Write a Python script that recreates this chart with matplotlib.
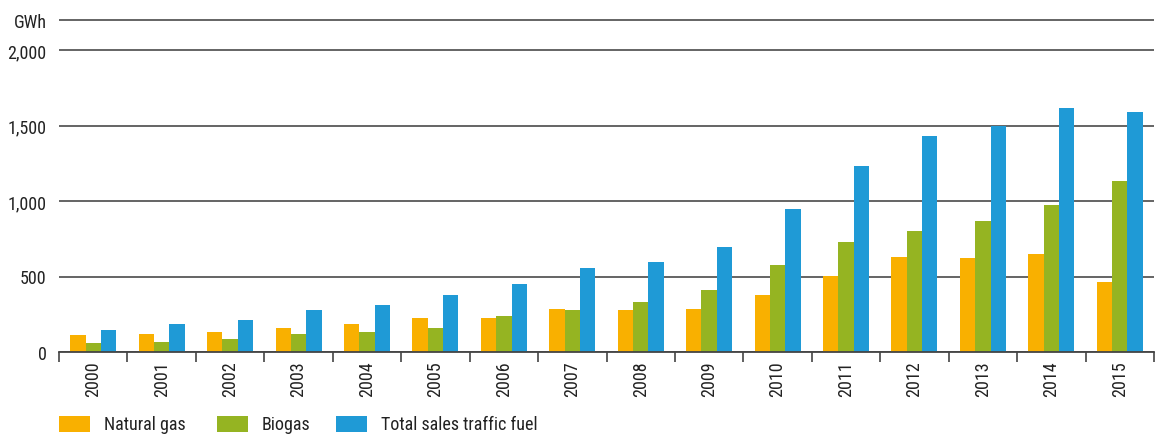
import matplotlib
matplotlib.use("Agg")
import matplotlib.pyplot as plt
from matplotlib import font_manager as fm
import numpy as np
from matplotlib.patches import Rectangle

# pick a condensed sans font if one is installed
prefs = ['roboto condensed', 'liberation sans narrow', 'open sans condensed',
         'noto sans condensed', 'dejavu sans condensed', 'dejavu sans']
chosen = None
for p in prefs:
    for f in fm.fontManager.ttflist:
        nm = f.name.lower()
        cond = ('condensed' in nm or 'narrow' in nm or
                str(f.stretch) in ('condensed', 'semi-condensed', '400', '500') or
                'condensed' in f.fname.lower() or 'narrow' in f.fname.lower())
        if cond and f.style == 'normal' and f.weight in (400, 'normal', 'regular') \
                and (nm.startswith(p) or p in f.fname.lower().replace('-', ' ').replace('_', ' ')):
            chosen = f
            break
    if chosen:
        break

if chosen is not None:
    fm.fontManager.addfont(chosen.fname)
    plt.rcParams['font.family'] = [chosen.name, 'DejaVu Sans']
    plt.rcParams['font.stretch'] = chosen.stretch
    FS = 13
else:
    plt.rcParams['font.family'] = ['DejaVu Sans']
    FS = 10.5

years = ['2000', '2001', '2002', '2003', '2004', '2005', '2006', '2007',
         '2008', '2009', '2010', '2011', '2012', '2013', '2014', '2015']
natural_gas = [113, 119, 134, 159, 185, 225, 225, 285, 278, 285, 377, 505, 630, 623, 650, 464]
biogas = [60, 66, 86, 119, 132, 159, 238, 278, 331, 411, 577, 729, 802, 868, 974, 1133]
total_sales = [146, 185, 212, 278, 311, 377, 450, 556, 596, 695, 947, 1232, 1431, 1498, 1615, 1588]

series_labels = ['Natural gas', 'Biogas', 'Total sales traffic fuel']
series_colors = ['#F9B000', '#95B422', '#1F9AD6']
ytick_values = [0, 500, 1000, 1500, 2000, 2200]
ytick_labels = ['0', '500', '1,000', '1,500', '2,000', 'GWh']

W, H = 1155, 435
fig = plt.figure(figsize=(W / 100, H / 100), dpi=100)
ymax = 2300
px_per = 75.5 / 500
y0_px = 353
top_px = y0_px - ymax * px_per
left_px, right_px = 59, 1154
ax = fig.add_axes([left_px / W, (H - y0_px) / H, (right_px - left_px) / W, (y0_px - top_px) / H])

x = np.arange(len(years))
bw = 0.224
for i, (vals, col) in enumerate(zip([natural_gas, biogas, total_sales], series_colors)):
    ax.bar(x + (i - 1) * bw, vals, width=bw, color=col, linewidth=0, zorder=3)

ax.set_xlim(-0.5, len(years) - 0.5)
ax.set_ylim(0, ymax)
ax.set_yticks(ytick_values)
ax.set_yticklabels(ytick_labels)
ax.yaxis.grid(True, color='#3a3a3a', linewidth=1.1)
ax.set_axisbelow(True)
ax.tick_params(axis='y', length=0, pad=9, labelsize=FS, colors='#222222')

ax.set_xticks(x)
ax.set_xticklabels(years, rotation=90, fontsize=FS, color='#222222')
ax.set_xticks(np.arange(-0.5, len(years)), minor=True)
ax.tick_params(axis='x', which='major', length=0, pad=6)
ax.tick_params(axis='x', which='minor', length=7, width=1.2, color='#444444')

for s in ['top', 'right', 'left']:
    ax.spines[s].set_visible(False)
ax.spines['bottom'].set_color('#444444')
ax.spines['bottom'].set_linewidth(1.3)
ax.spines['bottom'].set_zorder(4)

# legend
leg_x = [59, 217, 336]
for lx, lab, col in zip(leg_x, series_labels, series_colors):
    fig.patches.append(Rectangle((lx / W, (H - 433) / H), 31 / W, 16 / H,
                                 transform=fig.transFigure, color=col, linewidth=0))
    fig.text((lx + 45) / W, (H - 425) / H, lab, fontsize=FS, color='#222222',
             va='center', ha='left')

fig.savefig('out.png', dpi=100)
